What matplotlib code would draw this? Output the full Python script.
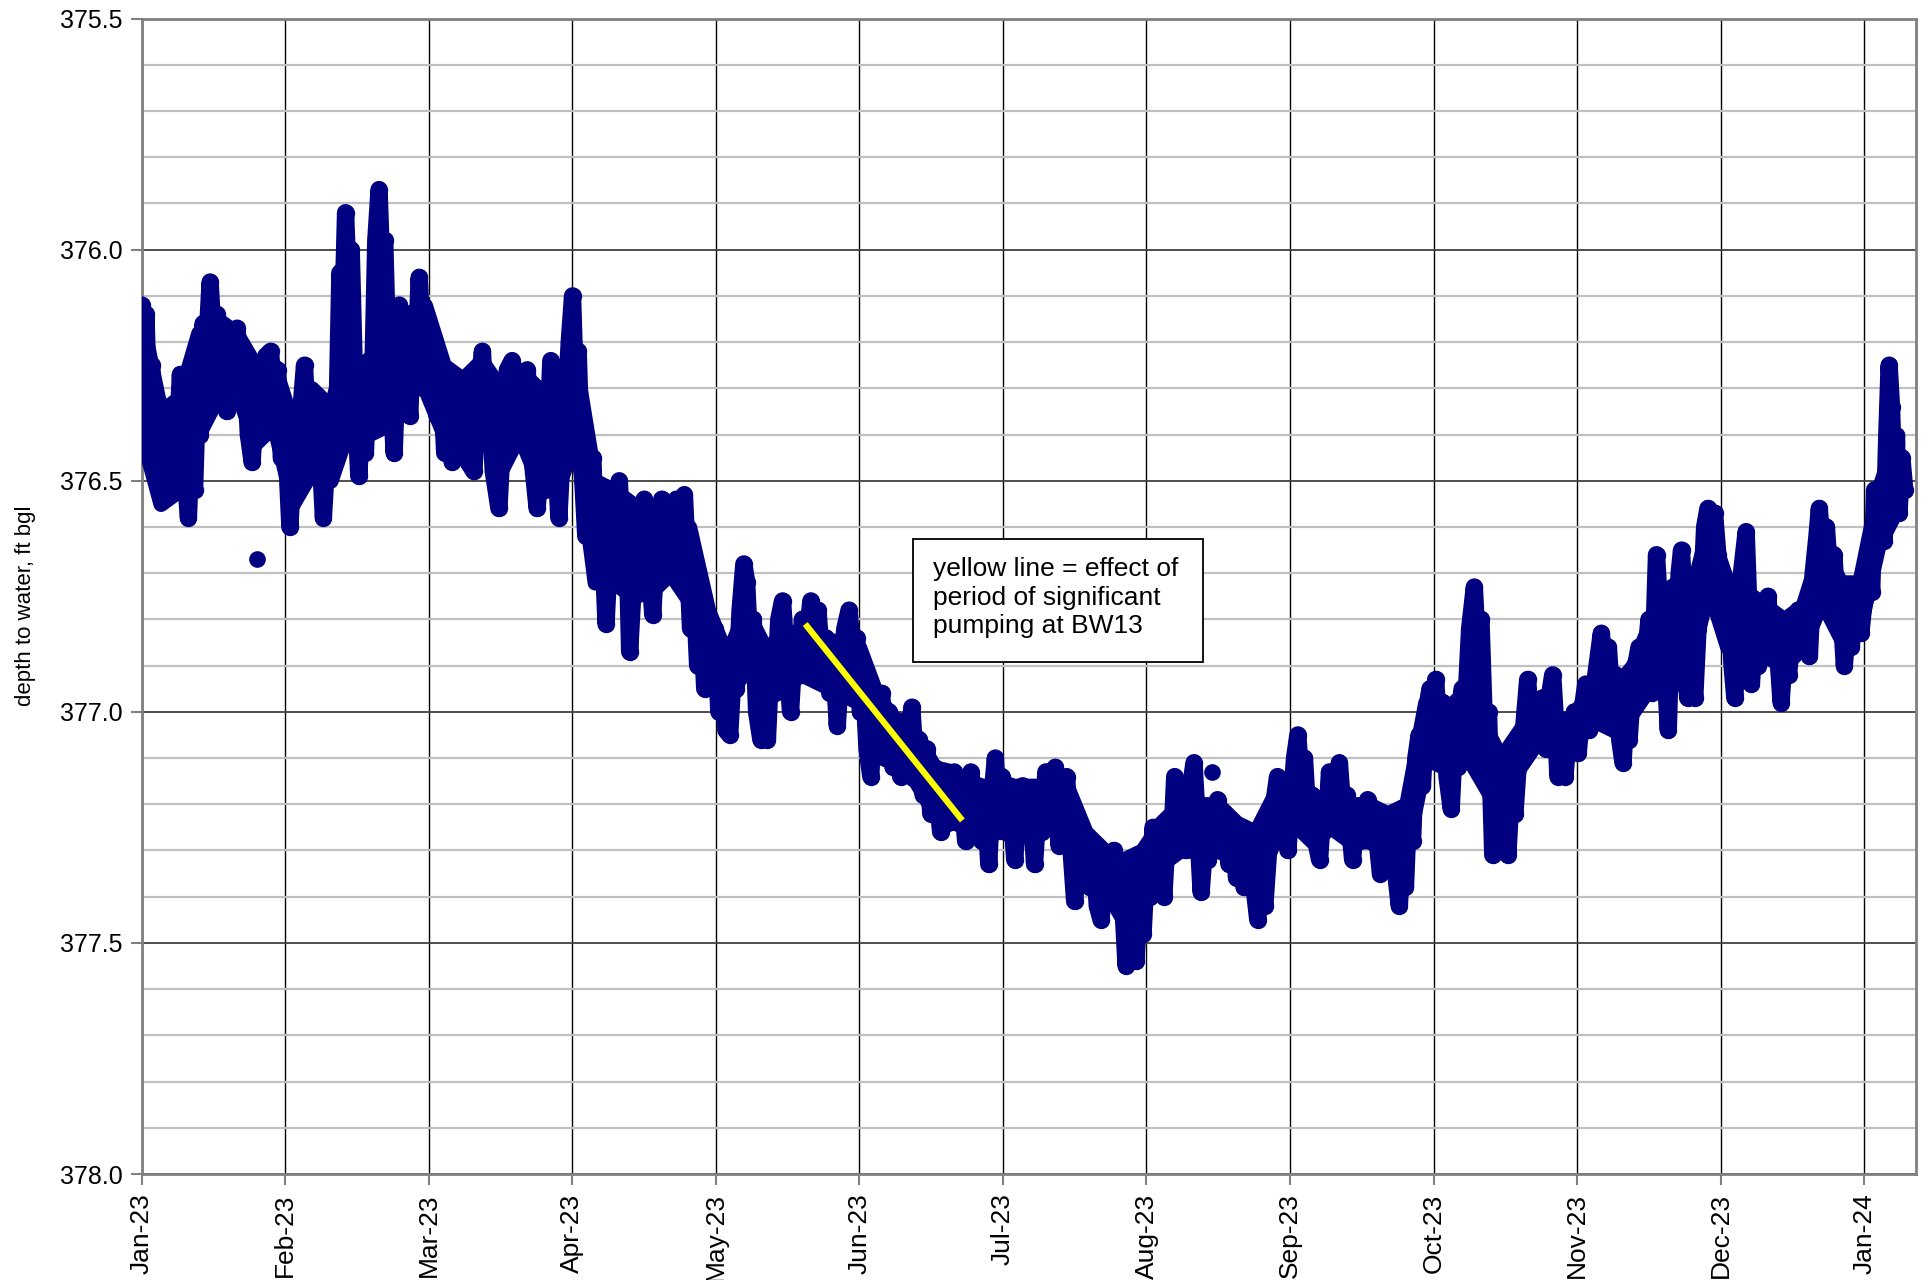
import matplotlib
matplotlib.use("Agg")
import matplotlib.pyplot as plt
import numpy as np
from matplotlib.patches import Rectangle
from matplotlib.ticker import MultipleLocator, FormatStrFormatter

plt.rcParams["font.family"] = ["Liberation Sans", "DejaVu Sans"]

# depth to water trace, days since 1 Jan 2023 (turning points)
day_num = [
    0.0, 0.4, 0.9, 1.5, 2.1, 2.8, 3.5, 4.3, 5.0, 5.8,
    6.6, 7.4, 8.2, 9.0, 9.9, 10.5, 11.2, 11.8, 12.4, 13.0,
    13.6, 14.5, 15.2, 15.9, 16.6, 17.3, 18.0, 18.7, 19.4, 20.2,
    21.0, 21.8, 22.6, 23.4, 24.2, 25.2, 26.3, 27.3, 28.0, 28.8,
    29.6, 30.4, 31.4, 32.2, 33.0, 33.7, 34.5, 35.3, 36.0, 36.8,
    37.6, 38.5, 39.3, 40.2, 41.0, 41.5, 42.0, 42.6, 43.2, 43.8,
    44.4, 45.2, 46.0, 46.7, 47.4, 48.2, 48.9, 49.6, 50.3, 50.9,
    51.5, 52.2, 52.9, 53.5, 54.0, 54.6, 55.3, 56.0, 56.8, 57.6,
    58.2, 58.8, 59.5, 60.2, 61.0, 61.8, 62.6, 63.4, 64.2, 65.0,
    65.8, 66.9, 67.6, 68.3, 69.2, 70.4, 71.2, 72.2, 72.9, 73.6,
    74.5, 75.7, 76.5, 77.5, 78.5, 79.6, 80.5, 81.7, 82.6, 83.8,
    84.6, 85.5, 86.7, 87.5, 88.4, 89.3, 90.0, 90.6, 91.3, 91.9,
    92.5, 93.2, 94.1, 94.8, 95.6, 96.4, 97.2, 98.4, 99.3, 100.3,
    101.2, 102.0, 102.7, 103.4, 104.3, 105.2, 106.5, 107.4, 108.3, 109.2,
    110.2, 110.9, 111.6, 112.5, 113.3, 114.2, 115.0, 115.7, 116.3, 117.0,
    117.8, 118.5, 119.3, 120.0, 120.8, 121.5, 122.3, 123.0, 123.8, 124.6,
    125.3, 126.0, 126.8, 127.6, 128.2, 128.8, 129.6, 130.3, 131.2, 131.8,
    132.6, 133.4, 134.2, 135.0, 135.8, 136.6, 137.5, 138.3, 139.2, 140.0,
    140.8, 141.8, 142.6, 143.3, 144.2, 145.0, 145.8, 146.6, 147.4, 148.2,
    149.0, 149.9, 150.7, 151.5, 152.3, 153.0, 153.7, 154.5, 155.2, 156.0,
    156.8, 157.6, 158.4, 159.2, 160.0, 160.8, 161.6, 162.4, 163.2, 164.0,
    164.8, 165.6, 166.4, 167.2, 168.0, 169.3, 170.0, 170.8, 171.5, 172.2,
    173.0, 173.8, 174.6, 175.7, 176.5, 177.3, 178.0, 178.8, 179.5, 180.2,
    180.9, 181.6, 182.3, 183.1, 183.9, 185.0, 185.8, 186.7, 187.5, 188.3,
    189.2, 190.0, 190.8, 191.6, 192.4, 193.6, 194.4, 195.2, 196.0, 196.8,
    197.7, 198.5, 199.2, 200.1, 200.9, 201.7, 202.5, 203.3, 204.1, 205.0,
    206.0, 206.8, 207.6, 208.6, 209.3, 210.0, 210.7, 211.4, 212.2, 213.0,
    213.6, 214.3, 215.0, 215.8, 216.6, 217.4, 218.2, 218.9, 219.7, 220.4,
    221.2, 222.0, 223.0, 223.8, 224.5, 225.3, 226.0, 226.8, 227.5, 228.0,
    228.8, 229.6, 230.4, 231.2, 232.0, 232.8, 233.6, 234.7, 235.5, 236.5,
    237.2, 238.0, 238.8, 239.6, 240.7, 241.5, 242.3, 242.9, 243.6, 244.3,
    245.0, 245.7, 246.4, 247.2, 248.0, 248.8, 249.6, 250.4, 251.0, 251.7,
    252.5, 253.2, 253.8, 254.6, 255.4, 256.6, 257.4, 258.2, 259.0, 259.8,
    260.6, 261.4, 262.5, 263.3, 264.0, 264.6, 265.4, 266.5, 267.2, 267.8,
    268.5, 269.3, 270.0, 270.7, 271.4, 272.2, 273.0, 273.6, 274.2, 275.0,
    275.8, 276.6, 277.5, 278.3, 279.0, 279.8, 280.5, 281.4, 282.4, 283.0,
    283.8, 284.6, 285.4, 286.3, 287.0, 287.8, 288.6, 289.5, 290.2, 291.0,
    291.8, 292.8, 293.7, 294.4, 295.2, 296.0, 296.8, 297.6, 298.4, 299.0,
    299.6, 300.1, 300.8, 301.6, 302.4, 303.0, 303.6, 304.4, 305.2, 306.0,
    306.8, 307.6, 308.4, 309.3, 310.0, 310.8, 311.6, 312.4, 313.2, 313.9,
    314.6, 315.2, 316.0, 316.6, 317.3, 318.0, 318.7, 319.4, 320.0, 320.5,
    321.0, 321.7, 322.4, 323.0, 323.5, 324.0, 324.5, 325.2, 325.8, 326.3,
    327.0, 327.6, 328.4, 329.1, 329.8, 330.5, 331.2, 331.9, 332.6, 333.3,
    334.0, 334.8, 335.6, 336.4, 337.0, 337.6, 338.3, 339.0, 340.0, 340.6,
    341.1, 341.8, 342.5, 343.2, 344.0, 344.6, 345.4, 346.2, 347.4, 348.2,
    349.0, 349.8, 351.0, 351.8, 352.6, 353.4, 354.2, 355.0, 355.5, 356.2,
    357.0, 357.8, 358.6, 359.4, 360.0, 360.8, 361.6, 362.3, 362.9, 363.6,
    364.3, 365.0, 366.0, 366.6, 367.2, 367.8, 368.5, 369.2, 369.8, 370.3,
    370.8, 371.3, 371.8, 372.4, 373.0, 373.6,
]
depth_ft = [
    376.12, 376.28, 376.14, 376.35, 376.25, 376.42, 376.33, 376.52, 376.40, 376.50,
    376.38, 376.44, 376.27, 376.46, 376.58, 376.42, 376.52, 376.32, 376.40, 376.16,
    376.24, 376.07, 376.20, 376.14, 376.30, 376.20, 376.35, 376.22, 376.33, 376.17,
    376.30, 376.24, 376.40, 376.46, 376.32, 376.28, 376.23, 376.22, 376.32, 376.26,
    376.45, 376.38, 376.60, 376.44, 376.50, 376.35, 376.25, 376.42, 376.36, 376.48,
    376.40, 376.58, 376.44, 376.40, 376.32, 376.30, 376.05, 376.15, 375.92, 376.08,
    376.00, 376.32, 376.49, 376.36, 376.44, 376.24, 376.30, 375.98, 375.87, 376.05,
    375.98, 376.25, 376.32, 376.44, 376.30, 376.12, 376.30, 376.22, 376.36, 376.14,
    376.22, 376.06, 376.20, 376.14, 376.28, 376.20, 376.36, 376.26, 376.44, 376.34,
    376.46, 376.28, 376.40, 376.32, 376.46, 376.48, 376.32, 376.22, 376.36, 376.30,
    376.48, 376.56, 376.40, 376.26, 376.24, 376.42, 376.30, 376.26, 376.44, 376.56,
    376.45, 376.52, 376.24, 376.40, 376.58, 376.40, 376.31, 376.20, 376.10, 376.30,
    376.22, 376.45, 376.62, 376.50, 376.45, 376.68, 376.52, 376.81, 376.62, 376.55,
    376.50, 376.66, 376.58, 376.87, 376.70, 376.62, 376.54, 376.66, 376.79, 376.62,
    376.54, 376.70, 376.60, 376.66, 376.54, 376.56, 376.53, 376.68, 376.82, 376.72,
    376.90, 376.76, 376.95, 376.80, 376.92, 376.82, 377.00, 376.88, 377.04, 377.05,
    376.92, 376.95, 376.78, 376.68, 376.72, 376.85, 376.80, 377.00, 377.06, 376.90,
    377.06, 376.88, 376.96, 376.80, 376.76, 376.88, 377.00, 376.86, 376.92, 376.80,
    376.86, 376.76, 376.82, 376.78, 376.90, 376.84, 376.96, 376.88, 377.03, 376.90,
    376.82, 376.78, 376.88, 376.84, 377.00, 376.94, 377.08, 377.14, 376.98, 377.06,
    376.96, 377.10, 377.00, 377.12, 377.04, 377.14, 377.02, 377.10, 376.99, 377.12,
    377.06, 377.18, 377.08, 377.22, 377.12, 377.26, 377.16, 377.24, 377.14, 377.13,
    377.24, 377.18, 377.28, 377.13, 377.22, 377.16, 377.28, 377.20, 377.33, 377.18,
    377.10, 377.22, 377.14, 377.26, 377.16, 377.32, 377.20, 377.16, 377.26, 377.18,
    377.33, 377.20, 377.26, 377.13, 377.22, 377.12, 377.29, 377.16, 377.14, 377.28,
    377.41, 377.30, 377.36, 377.27, 377.38, 377.30, 377.42, 377.45, 377.34, 377.40,
    377.30, 377.42, 377.36, 377.55, 377.44, 377.35, 377.54, 377.40, 377.48, 377.32,
    377.40, 377.25, 377.36, 377.30, 377.40, 377.25, 377.30, 377.14, 377.26, 377.20,
    377.30, 377.18, 377.11, 377.26, 377.39, 377.28, 377.32, 377.24, 377.30, 377.19,
    377.28, 377.22, 377.33, 377.24, 377.36, 377.28, 377.38, 377.28, 377.36, 377.45,
    377.34, 377.42, 377.30, 377.22, 377.14, 377.24, 377.18, 377.30, 377.20, 377.10,
    377.05, 377.16, 377.10, 377.24, 377.18, 377.28, 377.32, 377.20, 377.25, 377.13,
    377.20, 377.16, 377.11, 377.22, 377.18, 377.32, 377.22, 377.28, 377.22, 377.19,
    377.28, 377.24, 377.35, 377.28, 377.32, 377.24, 377.32, 377.42, 377.30, 377.38,
    377.20, 377.28, 377.10, 377.05, 377.16, 377.00, 376.95, 377.05, 376.93, 377.06,
    376.98, 377.14, 377.21, 377.04, 377.12, 376.95, 377.00, 376.82, 376.73, 376.85,
    376.80, 377.05, 377.00, 377.31, 377.15, 377.24, 377.10, 377.31, 377.18, 377.22,
    377.10, 377.04, 376.93, 377.04, 376.98, 377.06, 376.97, 377.08, 376.96, 376.92,
    377.02, 377.14, 377.04, 377.14, 377.04, 377.08, 377.00, 377.09, 377.00, 376.94,
    377.04, 376.96, 376.90, 376.83, 376.90, 376.86, 376.98, 376.92, 377.06, 377.11,
    377.00, 377.06, 376.94, 376.90, 376.86, 376.94, 376.88, 376.80, 376.96, 376.82,
    376.66, 376.78, 376.74, 376.94, 377.04, 376.86, 376.73, 376.85, 376.70, 376.65,
    376.80, 376.97, 376.86, 376.97, 376.82, 376.76, 376.60, 376.56, 376.62, 376.57,
    376.66, 376.72, 376.80, 376.76, 376.90, 376.97, 376.80, 376.70, 376.61, 376.78,
    376.94, 376.84, 376.90, 376.80, 376.88, 376.75, 376.86, 376.80, 376.98, 376.86,
    376.92, 376.82, 376.78, 376.86, 376.82, 376.88, 376.70, 376.62, 376.56, 376.66,
    376.60, 376.72, 376.66, 376.80, 376.76, 376.90, 376.80, 376.86, 376.73, 376.80,
    376.83, 376.76, 376.65, 376.74, 376.52, 376.62, 376.55, 376.63, 376.40, 376.25,
    376.34, 376.50, 376.42, 376.57, 376.45, 376.52,
]

# solid core of the dense readings, sampled every 4 days (upper / lower edge)
core_day = list(range(0, 373, 4))
core_top = [
    376.15, 376.35, 376.32, 376.18, 376.15, 376.18, 376.25, 376.25, 376.38, 376.30,
    376.34, 376.25, 376.25, 376.15, 376.14, 376.12, 376.25, 376.28, 376.24, 376.30,
    376.26, 376.30, 376.30, 376.25, 376.50, 376.52, 376.55, 376.56, 376.58, 376.60,
    376.78, 376.88, 376.78, 376.86, 376.84, 376.82, 376.84, 376.85, 376.86, 376.97,
    377.02, 377.05, 377.12, 377.13, 377.16, 377.16, 377.16, 377.16, 377.16, 377.16,
    377.26, 377.30, 377.32, 377.30, 377.24, 377.20, 377.20, 377.20, 377.24, 377.26,
    377.18, 377.14, 377.20, 377.17, 377.20, 377.20, 377.22, 377.20, 376.98, 377.00,
    376.96, 377.02, 377.10, 377.04, 376.98, 377.03, 377.00, 376.93, 376.95, 376.90,
    376.80, 376.80, 376.76, 376.60, 376.72, 376.74, 376.77, 376.80, 376.77, 376.64,
    376.72, 376.72, 376.52, 376.40,
]
core_bottom = [
    376.40, 376.55, 376.52, 376.40, 376.32, 376.30, 376.42, 376.38, 376.55, 376.48,
    376.50, 376.38, 376.40, 376.38, 376.30, 376.30, 376.40, 376.42, 376.37, 376.48,
    376.40, 376.50, 376.52, 376.40, 376.72, 376.72, 376.75, 376.74, 376.70, 376.76,
    376.92, 376.98, 376.90, 376.98, 376.94, 376.92, 376.94, 376.96, 376.98, 377.08,
    377.12, 377.15, 377.22, 377.24, 377.24, 377.26, 377.26, 377.26, 377.24, 377.26,
    377.36, 377.38, 377.45, 377.38, 377.33, 377.30, 377.30, 377.30, 377.32, 377.36,
    377.28, 377.24, 377.28, 377.25, 377.28, 377.28, 377.30, 377.30, 377.10, 377.12,
    377.08, 377.15, 377.22, 377.12, 377.06, 377.08, 377.06, 377.02, 377.04, 377.00,
    376.94, 376.95, 376.90, 376.73, 376.86, 376.88, 376.88, 376.90, 376.86, 376.76,
    376.84, 376.82, 376.64, 376.56,
]

# isolated readings away from the main trace
outlier_day = [24.4, 226.8]
outlier_depth = [376.67, 377.13]

# annotation line (pumping at BW13)
pump_day = [140.6, 173.9]
pump_depth = [376.81, 377.235]

month_labels = ["Jan-23", "Feb-23", "Mar-23", "Apr-23", "May-23", "Jun-23", "Jul-23",
                "Aug-23", "Sep-23", "Oct-23", "Nov-23", "Dec-23", "Jan-24"]

NAVY = "#000080"
SPINE = "#808080"

fig = plt.figure(figsize=(19.28, 12.8), dpi=100)
ax = fig.add_axes([0.0735, 0.0828, 0.9203, 0.9027])

core = ax.fill_between(core_day, core_top, core_bottom, facecolor=NAVY,
                       edgecolor=NAVY, lw=11, zorder=3)
core.set_joinstyle("round")
ax.plot(day_num, depth_ft, "-o", color=NAVY, lw=12.5, ms=12.5, mew=0,
        solid_joinstyle="round", solid_capstyle="round", zorder=3)
ax.plot(outlier_day, outlier_depth, "o", color=NAVY, ms=12, mew=0, zorder=3)
ax.plot(pump_day, pump_depth, color="#FFFF00", lw=4.5, solid_capstyle="butt", zorder=4)

ax.set_xlim(0, 376.0)
ax.set_ylim(378.0, 375.5)

tick_pos = np.arange(len(month_labels)) * 365 / 12
ax.set_xticks(tick_pos)
ax.set_xticklabels(month_labels, rotation=90, fontsize=19)
ax.yaxis.set_major_locator(MultipleLocator(0.5))
ax.yaxis.set_minor_locator(MultipleLocator(0.1))
ax.yaxis.set_major_formatter(FormatStrFormatter("%.1f"))
ax.tick_params(axis="y", labelsize=18, length=8, width=1.5, color=SPINE, pad=6)
ax.tick_params(axis="y", which="minor", length=0)
ax.tick_params(axis="x", length=8, width=1.5, color=SPINE, pad=6)

# gridlines: black month lines, dark major / light minor depth lines
ax.grid(axis="x", color="black", lw=1.0, zorder=1)
ax.grid(axis="y", which="major", color="#404040", lw=1.3, zorder=1)
ax.grid(axis="y", which="minor", color="#C0C0C0", lw=1.6, zorder=0)
ax.set_axisbelow(True)

for side in ax.spines.values():
    side.set_color(SPINE)
    side.set_linewidth(2)

fig.text(0.013, 0.527, "depth to water, ft bgl", rotation=90, fontsize=16,
         ha="center", va="center")

# annotation box
fig.patches.append(Rectangle((913 / 1928, 1 - 662 / 1280), 290 / 1928, 123 / 1280,
                             transform=fig.transFigure, facecolor="white",
                             edgecolor="black", lw=1.3, zorder=5))
fig.text(933 / 1928, 1 - 557 / 1280,
         "yellow line = effect of\nperiod of significant\npumping at BW13",
         fontsize=19, ha="left", va="top", linespacing=1.25, zorder=6)

fig.savefig("out.png", dpi=100)
